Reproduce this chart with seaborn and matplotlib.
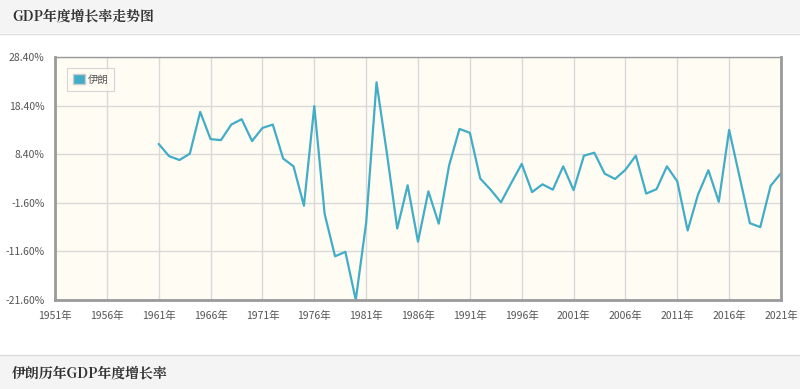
import pandas as pd
import seaborn as sns
import matplotlib.pyplot as plt
from matplotlib.patches import Patch, Rectangle

# data (Iran, annual GDP growth %)
years = list(range(1961, 2022))
growth = [10.5, 8.0, 7.2, 8.5, 17.1, 11.5, 11.3, 14.5, 15.6, 11.1,
          13.8, 14.5, 7.5, 5.9, -2.2, 18.3, -3.9, -12.6, -11.7, -21.6,
          -5.7, 23.2, 8.6, -6.9, 2.0, -9.6, 0.75, -5.9, 6.1, 13.6,
          12.8, 3.4, 1.1, -1.5, 2.5, 6.4, 0.6, 2.2, 1.1, 5.9,
          1.0, 8.1, 8.7, 4.4, 3.3, 5.2, 8.1, 0.3, 1.2, 5.9,
          2.8, -7.3, 0.1, 5.1, -1.4, 13.4, 3.8, -5.8, -6.6, 1.9, 4.5]
country = '伊朗'
x_ticks = list(range(1951, 2022, 5))
x_labels = [f'{y}年' for y in x_ticks]
y_ticks = [-21.6, -11.6, -1.6, 8.4, 18.4, 28.4]
y_labels = [f'{v:.2f}%' for v in y_ticks]

df = pd.DataFrame({'year': years, 'growth': growth})

sns.set_style('white')
plt.rcParams['font.family'] = ['Noto Sans CJK SC', 'DejaVu Sans']

line_color = '#41adc6'
title_font = ['Noto Serif CJK SC', 'Noto Sans CJK SC', 'DejaVu Sans']
fig = plt.figure(figsize=(8, 3.89), dpi=100)

# header / footer bands
fig.patches.append(Rectangle((0, 1 - 33 / 389), 1, 33 / 389, transform=fig.transFigure,
                             facecolor='#f4f4f4', edgecolor='none', zorder=0))
fig.patches.append(Rectangle((0, 0), 1, 34 / 389, transform=fig.transFigure,
                             facecolor='#f4f4f4', edgecolor='none', zorder=0))
fig.add_artist(plt.Line2D([0, 1], [1 - 33.5 / 389] * 2, color='#dddddd', lw=1))
fig.add_artist(plt.Line2D([0, 1], [34.5 / 389] * 2, color='#dddddd', lw=1))
fig.text(12 / 800, 1 - 16 / 389, 'GDP年度增长率走势图', fontsize=10, fontweight='bold',
         color='#333333', va='center', ha='left', family=title_font)
fig.text(12 / 800, 16 / 389, '伊朗历年GDP年度增长率', fontsize=10, fontweight='bold',
         color='#333333', va='center', ha='left', family=title_font)

ax = fig.add_axes([55 / 800, 1 - 300 / 389, (781 - 55) / 800, (300 - 57) / 389])
ax.set_facecolor('#fffcf4')
sns.lineplot(data=df, x='year', y='growth', ax=ax, color=line_color, lw=1.6)

ax.set_xlim(1951, 2021)
ax.set_ylim(-21.6, 28.4)
ax.set_xticks(x_ticks)
ax.set_xticklabels(x_labels)
ax.set_yticks(y_ticks)
ax.set_yticklabels(y_labels)
ax.set_xlabel('')
ax.set_ylabel('')
ax.grid(True, color='#d9d9d9', lw=1)
ax.tick_params(axis='both', labelsize=7.5, colors='#555555', length=4, width=1)
ax.tick_params(axis='both', color='#999999')
for s in ax.spines.values():
    s.set_color('#9a9a9a')
    s.set_linewidth(1)
ax.spines['left'].set_linewidth(2)
ax.spines['bottom'].set_linewidth(2)
ax.spines['right'].set_linewidth(2)

leg = ax.legend(handles=[Patch(facecolor=line_color, edgecolor='#cccccc', label=country)],
                loc='upper left', bbox_to_anchor=(0.016, 0.955), borderaxespad=0,
                fontsize=7.5, frameon=True, fancybox=False, handlelength=1.2,
                handleheight=1.1, handletextpad=0.2, borderpad=0.6)
leg.get_frame().set_edgecolor('#cccccc')
leg.get_frame().set_linewidth(0.8)
leg.get_frame().set_facecolor('#fffcf4')
for t in leg.get_texts():
    t.set_color('#555555')

fig.savefig('out.png', dpi=100)
